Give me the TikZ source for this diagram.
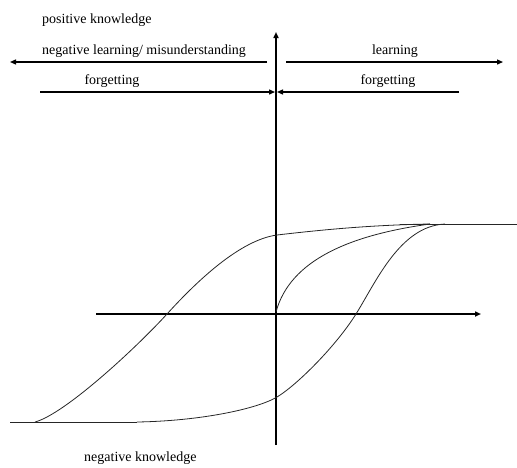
\documentclass[tikz,border=0pt]{standalone}
\usepackage{fontspec}
\setmainfont{Liberation Serif}
\usepackage{tikz}
\usetikzlibrary{arrows.meta}

\begin{document}
\begin{tikzpicture}[x=1pt,y=-1pt,>={Triangle[length=6pt,width=5pt]},line join=round,
  lbl/.style={inner sep=0pt,font=\fontsize{14}{16}\selectfont},
  axis/.style={line width=2.2pt},
  dirarrow/.style={line width=1.3pt,->},
  curve/.style={line width=0.8pt,black!85}]
  \useasboundingbox (0,0) rectangle (517,467);
  % axes
  \coordinate (VB) at (276,445);
  \coordinate (VT) at (276,32);
  \coordinate (HL) at (96,314);
  \coordinate (HR) at (481,314);
  \draw[axis,->] (VB) -- (VT);
  \draw[axis,->] (HL) -- (HR);
  % direction arrows
  \coordinate (NL0) at (267,62);
  \coordinate (NL1) at (10,62);
  \coordinate (LR0) at (286,62);
  \coordinate (LR1) at (503,62);
  \coordinate (FL0) at (40,92);
  \coordinate (FL1) at (275,92);
  \coordinate (FR0) at (459,92);
  \coordinate (FR1) at (277,92);
  \draw[dirarrow] (NL0) -- (NL1);
  \draw[dirarrow] (LR0) -- (LR1);
  \draw[dirarrow] (FL0) -- (FL1);
  \draw[dirarrow] (FR0) -- (FR1);
  % curves
  \coordinate (TopA) at (400,224);
  \coordinate (TopB) at (517,224);
  \coordinate (BotA) at (10,422);
  \coordinate (BotB) at (137,422);
  \coordinate (LS0) at (35,422);
  \coordinate (LS1) at (167,314);
  \coordinate (LS2) at (277,235);
  \coordinate (MS0) at (276,312);
  \coordinate (RS1) at (277,397);
  \coordinate (RS2) at (356,314);
  \coordinate (TopC) at (430,224);
  \draw[curve] (TopA) -- (TopB);
  \draw[curve] (BotA) -- (BotB);
  \draw[curve] (LS0) .. controls (65,414) and (137,347) .. (LS1)
    .. controls (197,281) and (240,240) .. (LS2)
    .. controls (320,230) and (370,225) .. (TopC);
  \draw[curve] (MS0) .. controls (290,260) and (350,235) .. (TopC);
  \draw[curve] (BotB) .. controls (200,421) and (257,409) .. (RS1)
    .. controls (297,385) and (336,346) .. (RS2)
    .. controls (376,282) and (400,226) .. (445,224);
  % labels
  \node[lbl,anchor=west] (pos) at (42,20) {positive knowledge};
  \node[lbl,anchor=west] (neglearn) at (42,51) {negative learning/ misunderstanding};
  \node[lbl] (learn) at (395,51) {learning};
  \node[lbl] (forgetL) at (112,81) {forgetting};
  \node[lbl] (forgetR) at (388,81) {forgetting};
  \node[lbl,anchor=west] (neg) at (84,458) {negative knowledge};
\end{tikzpicture}
\end{document}
